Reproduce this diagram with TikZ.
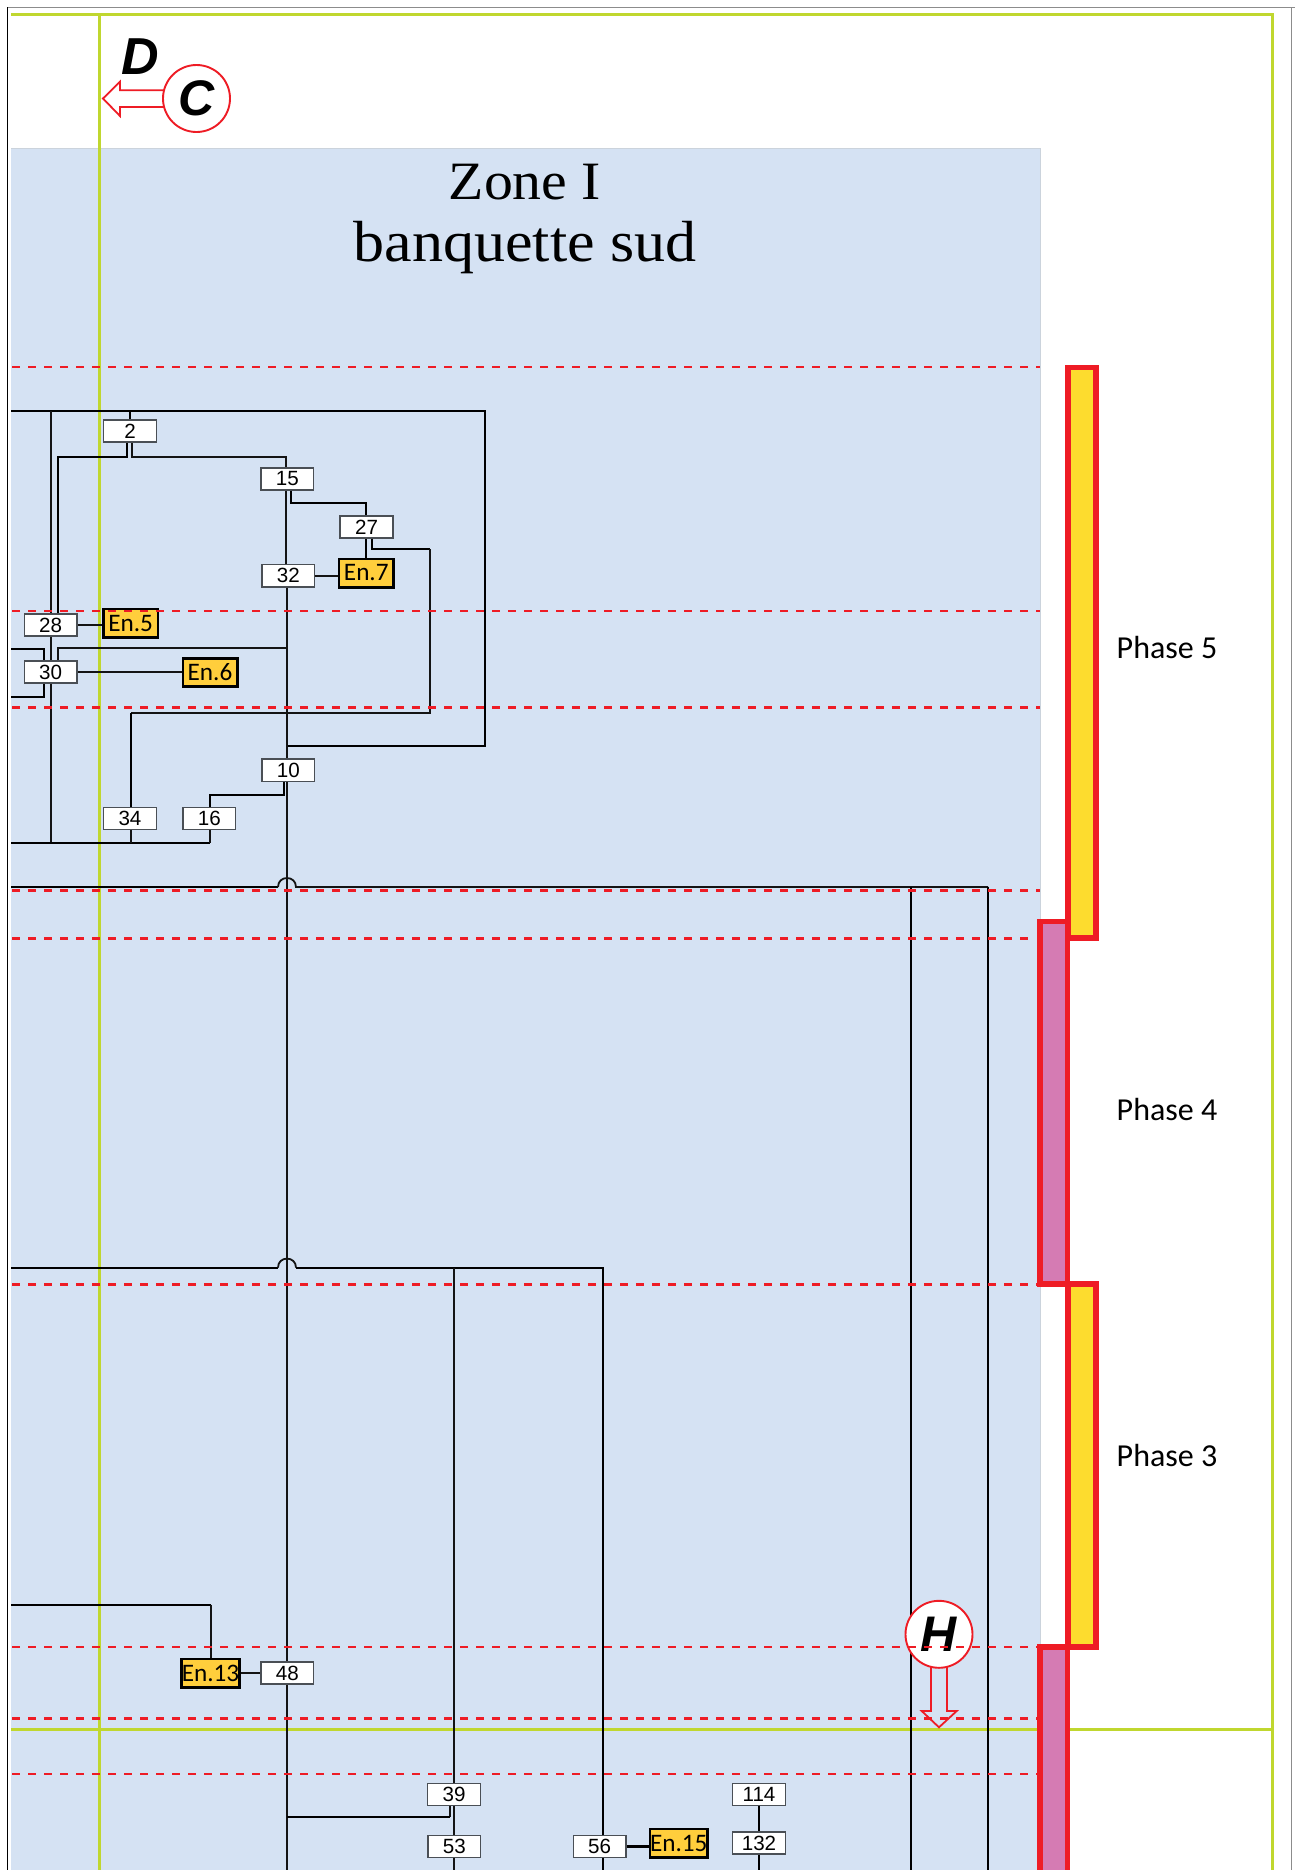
\documentclass[tikz,border=0pt]{standalone}
\usepackage{fontspec}
\setmainfont{Liberation Sans}
\newfontfamily\carlitofont{Carlito}
\newfontfamily\titlefont[FakeStretch=1.07]{Liberation Serif}
\definecolor{zoneblue}{HTML}{D5E2F3}
\definecolor{zoneedge}{HTML}{CBD3DC}
\definecolor{gridgreen}{HTML}{C0D72F}
\definecolor{cutred}{HTML}{EE1C25}
\definecolor{barpink}{HTML}{D57BB3}
\definecolor{baryellow}{HTML}{FDDC2E}
\definecolor{enorange}{HTML}{FFCE3C}
\definecolor{boxedge}{HTML}{4A4F55}
\tikzset{
  numbox/.style={draw=boxedge,line width=.75pt,fill=white,minimum width=26.4pt,minimum height=11.1pt,inner sep=0pt,
    font=\fontsize{10.3pt}{10pt}\selectfont,text=black},
  enbox/.style={draw=black,line width=1.3pt,fill=enorange,minimum width=27.2pt,minimum height=14.2pt,inner sep=0pt,
    font=\carlitofont\fontsize{12.6pt}{12pt}\selectfont,text=black},
  wire/.style={draw=black,line width=1.05pt,line join=miter},
  thinwire/.style={draw=black!92,line width=.9pt,line join=miter},
  gridline/.style={draw=gridgreen,line width=1.5pt},
  cutline/.style={draw=cutred,line width=1.2pt,dash pattern=on 4pt off 4pt},
  phasebar/.style={draw=cutred,line width=2.6pt,line join=miter},
  phaselabel/.style={inner sep=0pt,font=\carlitofont\fontsize{16pt}{18pt}\selectfont},
  titlelabel/.style={inner sep=0pt,font=\titlefont\fontsize{29pt}{32pt}\selectfont},
  titlehead/.style={inner sep=0pt,font=\titlefont\fontsize{27pt}{32pt}\selectfont},
  callout/.style={circle,draw=cutred,line width=.95pt,fill=white,minimum size=33.5pt,inner sep=0pt,
    font=\bfseries\itshape\fontsize{25pt}{26pt}\selectfont},
  openarrow/.style={draw=cutred,line width=.9pt,line join=miter},
  letterlabel/.style={inner sep=0pt,font=\bfseries\itshape\fontsize{26pt}{28pt}\selectfont}
}
\begin{document}
\begin{tikzpicture}[x=0.5pt,y=-0.5pt]
\useasboundingbox (0,0) rectangle (1295,1870);
% page frame
\fill[white] (0,0) rectangle (1295,1870);
\draw[black!45,line width=.5pt] (7.5,7) -- (1295,7);
\draw[black,line width=.6pt] (7.5,7) -- (7.5,1870);
\draw[black!45,line width=.8pt] (1291.5,7) -- (1291.5,1870);
% zone
\fill[zoneblue] (11,148) rectangle (1040,1870);
\draw[zoneedge,line width=.5pt] (11,148) -- (1040,148) -- (1040,1870);
% grid
\draw[gridline] (11,14) -- (1272,14) -- (1272,1870);
\draw[gridline] (99.5,14) -- (99.5,1870);
\draw[gridline] (11,1729.7) -- (1272,1729.7);
% titles
\node[titlehead] (ztitle) at (525,182) {Zone I};
\node[titlelabel] (zsub) at (525,248) {banquette sud};
% boxes
\node[numbox] (n2) at (130,431) {2};
\node[numbox] (n15) at (287.3,479) {15};
\node[numbox] (n27) at (366.5,527) {27};
\node[numbox] (n32) at (288.3,575.7) {32};
\node[numbox] (n28) at (50.7,625) {28};
\node[numbox] (n30) at (50.7,672) {30};
\node[numbox] (n10) at (288.3,770.3) {10};
\node[numbox] (n34) at (130,818.5) {34};
\node[numbox] (n16) at (209.3,818.5) {16};
\node[numbox] (n48) at (287.3,1673) {48};
\node[numbox] (n39) at (454,1794.5) {39};
\node[numbox] (n53) at (454.3,1846.5) {53};
\node[numbox] (n56) at (599.7,1846.5) {56};
\node[numbox] (n114) at (759,1794.5) {114};
\node[numbox] (n132) at (759,1843) {132};
\node[enbox] (e5) at (130.7,623.3) {En.5};
\node[enbox] (e6) at (210,672.5) {En.6};
\node[enbox] (e7) at (366.3,573) {En.7};
\node[enbox] (e13) at (210.5,1673.3) {En.13};
\node[enbox] (e15) at (678.8,1843) {En.15};
% junction coordinates
\coordinate (ltop) at (11,411);
\coordinate (rtop) at (485,411);
\coordinate (rmid) at (485,745.7);
\coordinate (cv) at (286.7,745.7);
\coordinate (cvbot) at (286.7,1870);
\coordinate (v51) at (51,411);
\coordinate (v130) at (130,411);
\coordinate (hl) at (11,842.7);
\coordinate (hr) at (210,842.7);
\coordinate (h51) at (51,842.7);
\coordinate (h131) at (131,842.7);
\coordinate (a2) at (127,457);
\coordinate (b2) at (58,457);
\coordinate (c2) at (132,457);
\coordinate (d2) at (286,457);
\coordinate (a15) at (291,503);
\coordinate (b15) at (366.3,503);
\coordinate (a27) at (372,549);
\coordinate (b27) at (429.7,549);
\coordinate (c27) at (429.7,713.3);
\coordinate (d27) at (131,713.3);
\coordinate (j32) at (286.7,648.3);
\coordinate (k32) at (58,648.3);
\coordinate (la) at (11,648.7);
\coordinate (lb) at (44,648.7);
\coordinate (lc) at (11,696.7);
\coordinate (ld) at (44,696.7);
\coordinate (a10) at (283.7,795);
\coordinate (b10) at (210,795);
% bump 1
\coordinate (p1) at (11,887);
\coordinate (p2) at (278,887);
\coordinate (p3) at (296,887);
\coordinate (p4) at (988,887);
\coordinate (p5) at (988,1870);
\coordinate (p6) at (911,887);
\coordinate (p7) at (911,1870);
% bump 2
\coordinate (q1) at (11,1267.6);
\coordinate (q2) at (278,1267.6);
\coordinate (q3) at (296,1267.6);
\coordinate (q4) at (603,1267.6);
\coordinate (q5) at (454,1267.6);
\coordinate (q6) at (603,1870);
\coordinate (q7) at (454.2,1870);
\coordinate (a39) at (449.7,1817);
\coordinate (b39) at (286.7,1817);
\coordinate (r1) at (11,1604.7);
\coordinate (r2) at (210.7,1604.7);
\coordinate (v132) at (759,1870);
% connectors
\draw[wire] (ltop) -- (rtop) -- (rmid) -- (cv) -- (cv |- n10.north);
\draw[wire] (v130) -- (n2.north);
\draw[thinwire] (v51) -- (v51 |- n28.north);
\draw[thinwire] (v51 |- n28.south) -- (v51 |- n30.north);
\draw[thinwire] (v51 |- n30.south) -- (h51);
\draw[wire] (hl) -- (hr);
\draw[thinwire] (hr) -- (hr |- n16.south);
\draw[thinwire] (h131) -- (h131 |- n34.south);
\draw[wire] (a2 |- n2.south) -- (a2) -- (b2) -- (b2 |- n28.north);
\draw[thinwire] (c2 |- n2.south) -- (c2) -- (d2) -- (d2 |- n15.north);
\draw[wire] (a15 |- n15.south) -- (a15) -- (b15) -- (b15 |- n27.north);
\draw[thinwire] (d2 |- n15.south) -- (d2 |- n32.north);
\draw[wire] (b15 |- n27.south) -- (b15 |- e7.north);
\draw[thinwire] (n32.east) -- (e7.west |- n32.east);
\draw[wire] (a27 |- n27.south) -- (a27) -- (b27);
\draw[thinwire] (b27) -- (c27) -- (d27);
\draw[wire] (d27) -- (d27 |- n34.north);
\draw[thinwire] (j32 |- n32.south) -- (j32 |- n10.north);
\draw[thinwire] (j32) -- (k32) -- (k32 |- n30.north);
\draw[thinwire] (n28.east) -- (e5.west |- n28.east);
\draw[thinwire] (n30.east) -- (e6.west |- n30.east);
\draw[wire] (la) -- (lb) -- (lb |- n30.north);
\draw[wire] (lc) -- (ld) -- (ld |- n30.south);
\draw[wire] (a10 |- n10.south) -- (a10) -- (b10) -- (b10 |- n16.north);
\draw[thinwire] (j32 |- n10.south) -- (j32 |- n48.north);
\draw[thinwire] (j32 |- n48.south) -- (cvbot);
\draw[wire] (p1) -- (p2);
\draw[thinwire] (p2) .. controls (278,875) and (296,875) .. (p3) -- (p4);
\draw[wire] (p4) -- (p5);
\draw[wire] (p6) -- (p7);
\draw[wire] (q1) -- (q2);
\draw[thinwire] (q2) .. controls (278,1255.6) and (296,1255.6) .. (q3);
\draw[wire] (q3) -- (q4) -- (q4 |- n56.north);
\draw[wire] (q4 |- n56.south) -- (q6);
\draw[thinwire] (q5) -- (q5 |- n39.north);
\draw[thinwire] (q5 |- n39.south) -- (q5 |- n53.north);
\draw[thinwire] (q7 |- n53.south) -- (q7);
\draw[thinwire] (a39 |- n39.south) -- (a39);
\draw[wire] (a39) -- (b39);
\draw[wire] (r1) -- (r2);
\draw[thinwire] (r2) -- (r2 |- e13.north);
\draw[thinwire] (e13.east) -- (n48.west |- e13.east);
\draw[wire] (n56.east) -- (e15.west |- n56.east);
\draw[wire] (n114.south) -- (n132.north);
\draw[wire] (n132.south) -- (v132);
% phase bars
\fill[barpink] (1040,921.5) rectangle (1067.5,1284);
\draw[phasebar] (1040,921.5) rectangle (1067.5,1284);
\fill[barpink] (1040,1647) rectangle (1067.5,1870);
\draw[phasebar] (1040,1870) -- (1040,1647) -- (1067.5,1647) -- (1067.5,1870);
\fill[baryellow] (1068,367.5) rectangle (1096,938);
\draw[phasebar] (1068,367.5) rectangle (1096,938);
\fill[baryellow] (1068,1284) rectangle (1096,1647);
\draw[phasebar] (1068,1284) rectangle (1096,1647);
\node[phaselabel] (ph5) at (1167,647) {Phase 5};
\node[phaselabel] (ph4) at (1167,1109) {Phase 4};
\node[phaselabel] (ph3) at (1167,1455) {Phase 3};
% callouts
\draw[openarrow] (164,90.3) -- (120,90.3) -- (120,81.7) -- (103,98.5) -- (120,116) -- (120,107) -- (164,107);
\node[callout] (cC) at (196.5,98.5) {C};
\node[letterlabel] (lD) at (140,56.5) {D};
\node[callout] (cH) at (939,1634.3) {H};
\draw[openarrow] (931,1667) -- (931,1711) -- (921.7,1711) -- (939,1727.3) -- (956.7,1711) -- (947,1711) -- (947,1667);
% section lines
\foreach \yy/\xe in {367/1040,610.7/1040,707.4/1040,890.3/1040,938.3/1030,1284.3/1040,1647/1040,1718.3/1040,1773.7/1040}{
  \draw[cutline] (12,\yy) -- (\xe,\yy);
}
\end{tikzpicture}
\end{document}
